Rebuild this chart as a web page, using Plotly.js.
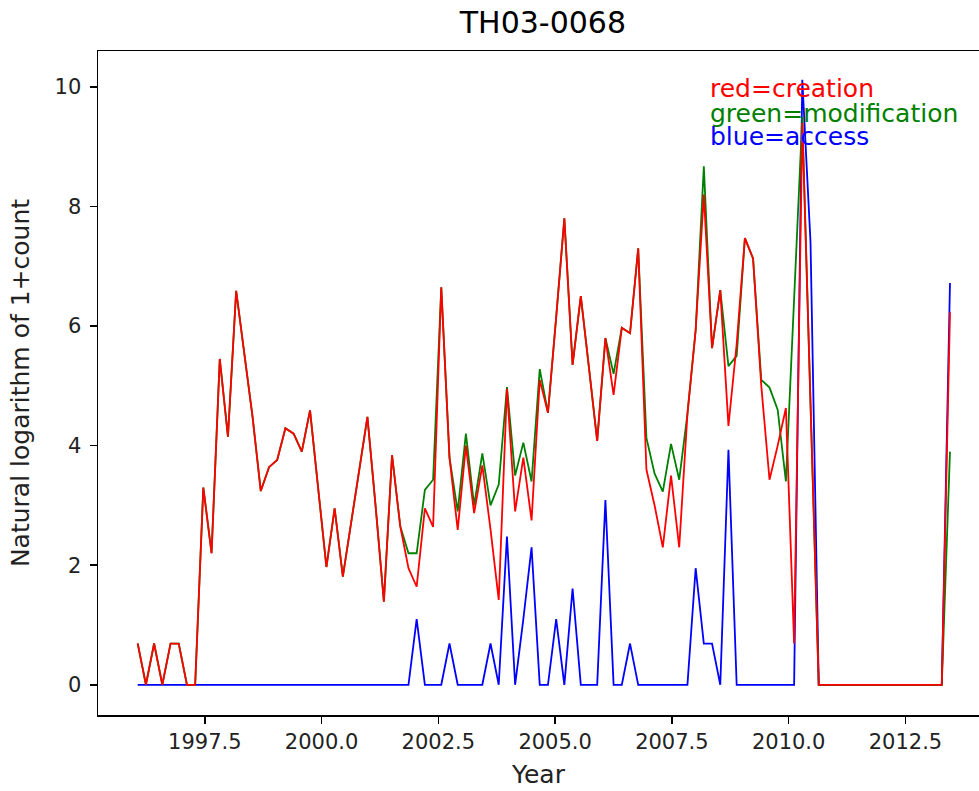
<!DOCTYPE html>
<html>
<head>
<meta charset="utf-8">
<script src="https://cdn.plot.ly/plotly-3.0.1.min.js"></script>
<style>html,body{margin:0;padding:0;background:#fff;}#chart{width:979px;height:791px;}</style>
</head>
<body>
<div id="chart"></div>
<script>
const years = [1996.064,1996.240,1996.415,1996.591,1996.767,1996.942,1997.118,1997.294,1997.469,1997.645,
1997.821,1997.996,1998.172,1998.348,1998.523,1998.699,1998.875,1999.050,1999.226,1999.402,
1999.577,1999.753,1999.929,2000.104,2000.280,2000.456,2000.631,2000.807,2000.982,2001.158,
2001.334,2001.509,2001.685,2001.861,2002.036,2002.212,2002.388,2002.563,2002.739,2002.915,
2003.090,2003.266,2003.442,2003.617,2003.793,2003.969,2004.144,2004.320,2004.496,2004.671,
2004.847,2005.023,2005.198,2005.374,2005.550,2005.725,2005.901,2006.077,2006.252,2006.428,
2006.604,2006.779,2006.955,2007.130,2007.306,2007.482,2007.657,2007.833,2008.009,2008.184,
2008.360,2008.536,2008.711,2008.887,2009.063,2009.238,2009.414,2009.590,2009.765,2009.941,
2010.117,2010.292,2010.468,2010.644,2010.819,2010.995,2011.171,2011.346,2011.522,2011.698,
2011.873,2012.049,2012.225,2012.400,2012.576,2012.752,2012.927,2013.103,2013.278,2013.454];

const creation = [0.69,0,0.69,0,0.69,0.69,0,0,3.30,2.20,
5.45,4.15,6.59,5.50,4.48,3.24,3.64,3.76,4.29,4.20,
3.90,4.59,3.30,1.97,2.95,1.81,2.70,3.58,4.48,2.98,
1.39,3.84,2.65,1.95,1.64,2.95,2.64,6.65,3.80,2.59,
4.00,2.87,3.67,2.60,1.42,4.95,2.90,3.80,2.75,5.10,
4.55,6.15,7.80,5.35,6.50,5.30,4.08,5.80,4.85,5.97,
5.88,7.30,3.60,3.00,2.30,3.50,2.30,4.53,5.93,8.20,
5.63,6.60,4.33,5.70,7.47,7.13,5.00,3.43,4.00,4.63,
0.69,9.40,4.70,0,0,0,0,0,0,0,
0,0,0,0,0,0,0,0,0,6.23];

const modification = [0.69,0,0.69,0,0.69,0.69,0,0,3.30,2.20,
5.45,4.15,6.59,5.50,4.48,3.24,3.64,3.76,4.29,4.20,
3.90,4.59,3.30,1.97,2.95,1.81,2.70,3.58,4.48,2.98,
1.39,3.84,2.65,2.20,2.20,3.26,3.43,6.65,3.80,2.90,
4.20,3.00,3.87,3.00,3.35,4.98,3.50,4.05,3.40,5.28,
4.55,6.15,7.80,5.35,6.50,5.30,4.08,5.80,5.20,5.97,
5.88,7.30,4.13,3.53,3.23,4.03,3.43,4.53,5.93,8.67,
5.63,6.60,5.33,5.50,7.47,7.13,5.10,4.97,4.60,3.40,
6.60,9.50,4.70,0,0,0,0,0,0,0,
0,0,0,0,0,0,0,0,0,3.90];

const access = [0,0,0,0,0,0,0,0,0,0,
0,0,0,0,0,0,0,0,0,0,
0,0,0,0,0,0,0,0,0,0,
0,0,0,0,1.10,0,0,0,0.69,0,
0,0,0,0.69,0,2.48,0,1.10,2.30,0,
0,1.10,0,1.61,0,0,0,3.09,0,0,
0.69,0,0,0,0,0,0,0,1.95,0.69,
0.69,0,3.93,0,0,0,0,0,0,0,
0,10.12,7.40,0,0,0,0,0,0,0,
0,0,0,0,0,0,0,0,0,6.72];

const seriesNames = ['access','modification','creation'];
const seriesColors = ['#0000ff','#008000','#ff0000'];
const legendLines = ['red=creation','green=modification','blue=access'];
const legendColors = ['#ff0000','#008000','#0000ff'];

const FONT = 'DejaVu Sans, Liberation Sans, sans-serif';
const seriesData = [access, modification, creation];

const traces = seriesData.map((ys, k) => ({
  type: 'scatter', mode: 'lines', x: years, y: ys, name: seriesNames[k],
  line: {color: seriesColors[k], width: 1.8}, hoverinfo: 'x+y'
}));

const legendY = [0.944, 0.9066, 0.8705];
const annotations = legendLines.map((t, k) => ({
  text: t, xref: 'paper', yref: 'paper', x: 0.6924, y: legendY[k],
  xanchor: 'left', yanchor: 'middle', showarrow: false,
  font: {family: FONT, size: 25, color: legendColors[k]}
}));

const layout = {
  width: 979, height: 791,
  margin: {l: 98, r: 0, t: 51, b: 76, pad: 0},
  paper_bgcolor: '#ffffff', plot_bgcolor: '#ffffff',
  showlegend: false,
  font: {family: FONT, size: 21, color: '#000'},
  title: {text: 'TH03-0068', font: {family: FONT, size: 30, color: '#000'},
          x: 0.505, xref: 'paper', xanchor: 'center', y: 0.972, yref: 'container', yanchor: 'middle'},
  xaxis: {
    range: [1995.214, 2014.075], tick0: 1997.5, dtick: 2.5, tickformat: '.1f',
    showline: true, linecolor: '#000', linewidth: 1.5, mirror: true,
    ticks: 'outside', ticklen: 7, tickwidth: 1.5, tickcolor: '#000',
    showgrid: false, zeroline: false, automargin: false,
    tickfont: {family: FONT, size: 21, color: '#222'},
    title: {text: 'Year', font: {family: FONT, size: 25, color: '#222'}, standoff: 13}
  },
  yaxis: {
    range: [-0.505, 10.6], tick0: 0, dtick: 2,
    showline: true, linecolor: '#000', linewidth: 1.5, mirror: false,
    ticks: 'outside', ticklen: 7, tickwidth: 1.5, tickcolor: '#000',
    showgrid: false, zeroline: false, automargin: false,
    ticklabelstandoff: 4,
    tickfont: {family: FONT, size: 21, color: '#222'},
    title: {text: 'Natural logarithm of 1+count', font: {family: FONT, size: 25, color: '#222'}, standoff: 18}
  },
  annotations: annotations
};

Plotly.newPlot('chart', traces, layout, {displayModeBar: false, staticPlot: true});
</script>
</body>
</html>
